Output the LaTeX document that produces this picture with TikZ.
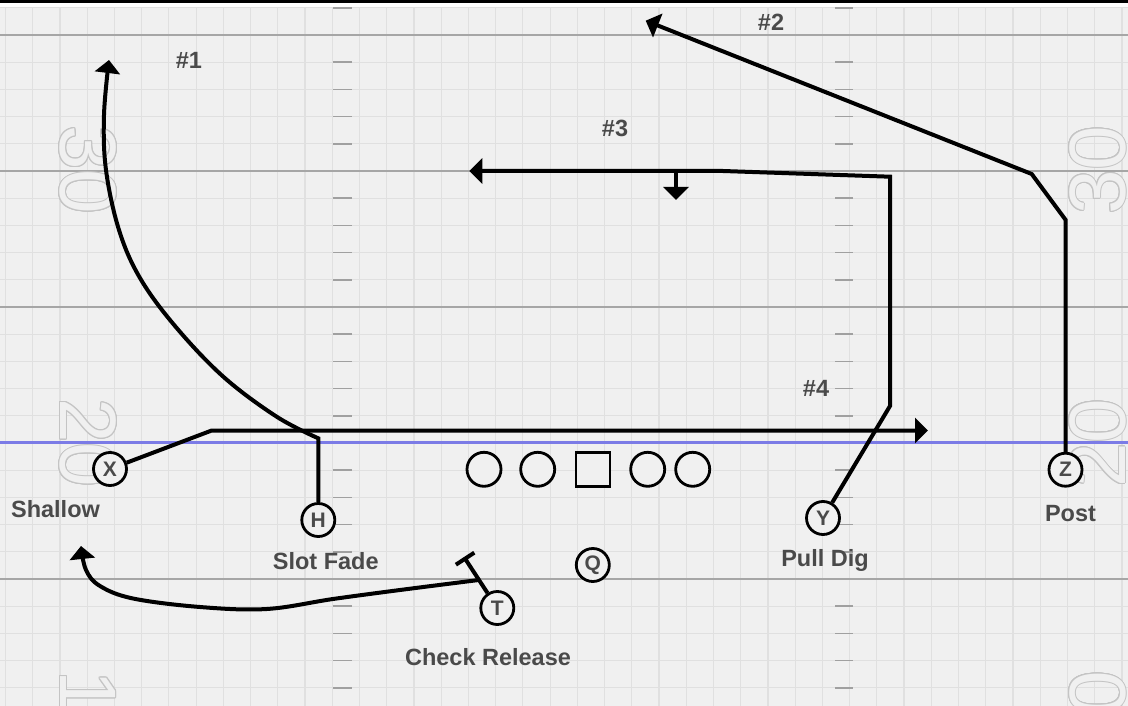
\documentclass[tikz,border=0pt]{standalone}
\usepackage{fontspec}
\setsansfont{Liberation Sans}
\usepackage{xcolor}
\usepackage{contour}
\usepackage{tikz}
\usetikzlibrary{arrows.meta}
\definecolor{field}{HTML}{F0F0F0}
\definecolor{gridc}{HTML}{E0E0E0}
\definecolor{yardc}{HTML}{A6A6A6}
\definecolor{hashc}{HTML}{A0A0A0}
\definecolor{losc}{HTML}{7B7BE6}
\definecolor{ink}{HTML}{4A4A4A}
\definecolor{numc}{HTML}{C4C4C4}
\contourlength{1pt}
\contournumber{16}

\begin{document}
\begin{tikzpicture}[x=1pt,y=-1pt,
    >={Triangle[length=13pt,width=25pt]},
    gridline/.style={draw=gridc, line width=1.2pt},
    yardline/.style={draw=yardc, line width=2pt},
    hashmark/.style={draw=hashc, line width=1.5pt},
    los/.style={draw=losc, line width=3pt},
    yardnum/.style={inner sep=0pt, text=field, font=\sffamily\fontsize{80}{80}\selectfont},
    player/.style={shape=circle, draw, line width=2.8pt, fill=field, minimum size=33pt, inner sep=0pt, text=ink, font=\sffamily\bfseries\fontsize{21}{21}\selectfont},
    lineman/.style={shape=circle, draw, line width=2.8pt, fill=field, minimum size=34pt, inner sep=0pt},
    snapper/.style={shape=rectangle, draw, line width=2.8pt, fill=field, minimum size=34pt, inner sep=0pt},
    route/.style={draw=black, line width=4pt},
    lbl/.style={anchor=base, inner sep=0pt, text=ink, font=\sffamily\bfseries\fontsize{23.5}{24}\selectfont}]
    \useasboundingbox (0,0) rectangle (1128,706);
    \fill[black] (0,0) rectangle (1128,2.7);
    \fill[white] (0,2.7) rectangle (1128,7.5);
    \fill[field] (0,7.5) rectangle (1128,706);

    \foreach \i in {0,...,41} \draw[gridline] ({5.5+27.23*\i},7.5) -- ({5.5+27.23*\i},706);
    \foreach \j in {0,...,25} \draw[gridline] (0,{7.8+27.2*\j}) -- (1128,{7.8+27.2*\j});
    \foreach \y in {35,171,307,579} \draw[yardline] (0,\y) -- (1128,\y);
    \draw[los] (0,442.5) -- (1128,442.5);
    \foreach \b in {-5,0,5,10,15,20} {
      \foreach \k in {1,...,4} {
        \draw[hashmark] (333,{35+27.2*(\b+\k)}) -- (352,{35+27.2*(\b+\k)});
        \draw[hashmark] (835,{35+27.2*(\b+\k)}) -- (853,{35+27.2*(\b+\k)});
      }
    }

    \begin{scope}
      \clip (0,7.5) rectangle (1128,706);
      \foreach \y/\t in {170/30,443/20,715/10} {
        \node[yardnum,rotate=-90] (numL\t) at (87.5,\y) {\contour{numc}{\t}};
        \node[yardnum,rotate=90] (numR\t) at (1098,\y) {\contour{numc}{\t}};
      }
    \end{scope}

    \node[player] (X) at (110,469) {X};
    \node[player] (H) at (318.3,520) {H};
    \node[player] (Y) at (823,518) {Y};
    \node[player] (Z) at (1065.5,469.7) {Z};
    \node[player] (Q) at (592.8,565) {Q};
    \node[player] (T) at (497.3,608) {T};
    \node[lineman] (lt) at (484,469.3) {};
    \node[lineman] (lg) at (537.7,469.3) {};
    \node[snapper] (c) at (593,469.7) {};
    \node[lineman] (rg) at (647.7,469.3) {};
    \node[lineman] (rt) at (692.7,469.3) {};

    \coordinate (xend) at (928,430.5);
    \coordinate (yend) at (469.3,171);
    \coordinate (ydrop) at (676,171);
    \coordinate (ydropend) at (676,200);
    \coordinate (zend) at (645.7,20.7);
    \coordinate (tblock) at (464,557);
    \coordinate (tstart) at (478.7,580);

    \draw[route,->] (H.north) -- plot[smooth,tension=0.6] coordinates {(318.3,438.3) (276.7,416.7) (223.3,376.7) (175,326) (140,278) (119,230) (106,170) (104,115) (109,60)};
    \draw[route,->] (X) -- (211.7,430.5) -- (xend);
    \draw[route,->] (Y) -- (890,406) -- (890,176.7) -- (723,171) -- (yend);
    \draw[route,->] (ydrop) -- (ydropend);
    \draw[route,->] (Z) -- (1065.7,220) -- (1031.7,174) -- (zend);
    \draw[route,-{Bar[width=22pt]}] (T) -- (tblock);
    \draw[route,->] plot[smooth,tension=0.6] coordinates {(tstart) (400,590) (333,599) (266.7,609) (200,607) (133,598.5) (100,586) (86,570) (81,546)};

    \node[lbl] (lshallow) at (55.5,517.7) {Shallow};
    \node[lbl] (lslot) at (325.8,569.3) {Slot Fade};
    \node[lbl] (lcheck) at (488,665) {Check Release};
    \node[lbl] (lpull) at (825,566.7) {Pull Dig};
    \node[lbl] (lpost) at (1070.5,521.7) {Post};
    \node[lbl] (n1) at (189,68.3) {\#1};
    \node[lbl] (n2) at (771,30.7) {\#2};
    \node[lbl] (n3) at (615,136.7) {\#3};
    \node[lbl] (n4) at (816,396.7) {\#4};
  \end{tikzpicture}
\end{document}
